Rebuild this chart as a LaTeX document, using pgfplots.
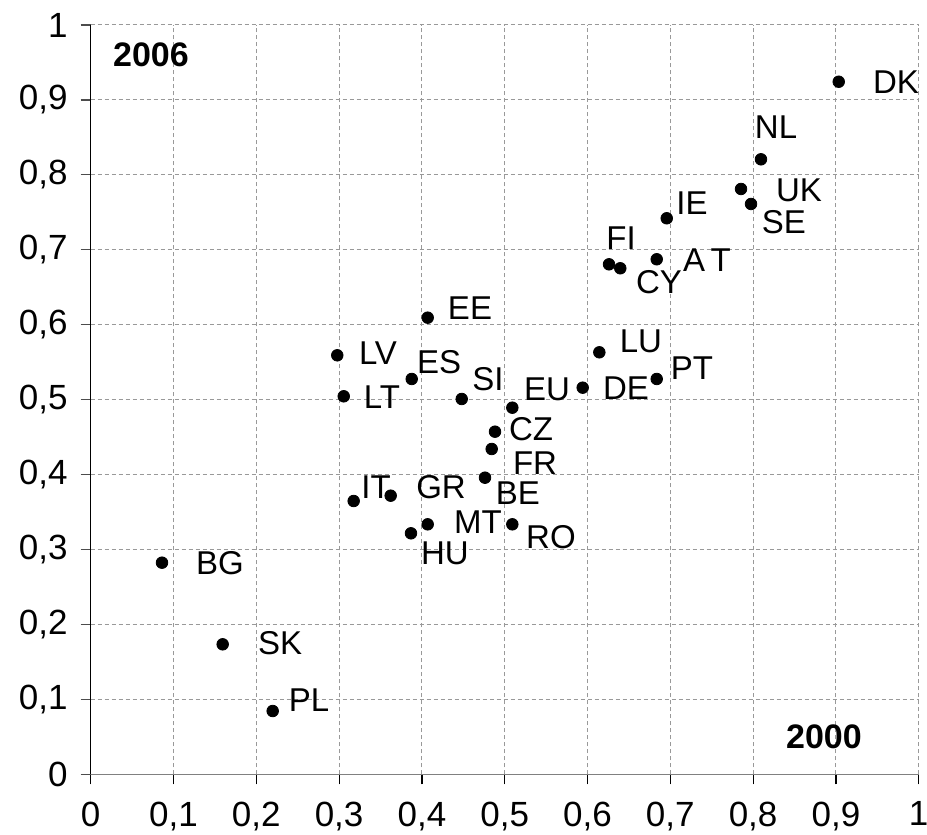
\documentclass[border=0pt]{standalone}
\usepackage{fontspec}
\setmainfont{Liberation Sans}
\usepackage{pgfplots}
\pgfplotsset{compat=1.18}
\usepackage{pgfplotstable}

% x = 2000, y = 2006
\pgfplotstableread{
x      y      lab
0.9034 0.9243 DK
0.8095 0.8208 NL
0.7854 0.7812 UK
0.7975 0.7612 SE
0.6957 0.7421 IE
0.6260 0.6807 FI
0.6396 0.6754 CY
0.6836 0.6874 AT
0.6143 0.5633 LU
0.6836 0.5277 PT
0.5942 0.5161 DE
0.5092 0.4894 EU
0.4070 0.6095 EE
0.2978 0.5593 LV
0.3877 0.5277 ES
0.3056 0.5046 LT
0.4481 0.5010 SI
0.4883 0.4574 CZ
0.4843 0.4343 FR
0.4762 0.3960 BE
0.3176 0.3649 IT
0.3623 0.3720 GR
0.4070 0.3338 MT
0.3868 0.3218 HU
0.5092 0.3338 RO
0.0861 0.2826 BG
0.1594 0.1737 SK
0.2198 0.0847 PL
}\pts

\begin{document}
\begin{tikzpicture}
\begin{axis}[
  at={(0,0)}, anchor=origin,
  scale only axis,
  width=414pt, height=374.75pt,
  xmin=0, xmax=1, ymin=0, ymax=1,
  xtick={0,0.1,...,1.01}, ytick={0,0.1,...,1.01},
  axis x line*=bottom, axis y line*=left,
  x axis line style={draw=gray, -},
  y axis line style={draw=black, -},
  tick align=outside,
  major tick length=5pt,
  x tick style={black, line width=0.6pt},
  y tick style={black!70, line width=0.6pt},
  grid=major,
  major grid style={gray!80, line width=0.5pt, dash pattern=on 2pt off 1.5pt},
  /pgf/number format/.cd, use comma, fixed, precision=1, assume math mode=true,
  /pgfplots/.cd,
  tick label style={font=\fontsize{17.5}{20}\selectfont},
  xticklabel style={yshift=-5pt},
  yticklabel style={xshift=-3pt},
  clip=false,
]
\addplot[only marks, mark=*, mark size=2.9pt, black] table[x=x, y=y] {\pts};

\begin{scope}[every node/.style={font=\fontsize{16.5}{19}\selectfont, inner sep=0pt}]
\node at (axis cs:0.9726,0.924)  {DK};
\node at (axis cs:0.8277,0.864)  {NL};
\node at (axis cs:0.8554,0.780)  {UK};
\node at (axis cs:0.8373,0.737)  {SE};
\node at (axis cs:0.7262,0.7625) {IE};
\node at (axis cs:0.6405,0.716)  {FI};
\node at (axis cs:0.7443,0.6865) {A\,T};
\node at (axis cs:0.6863,0.657)  {CY};
\node at (axis cs:0.6646,0.578)  {LU};
\node at (axis cs:0.7262,0.542)  {PT};
\node at (axis cs:0.6465,0.5157) {DE};
\node at (axis cs:0.5511,0.5143) {EU};
\node at (axis cs:0.4581,0.6224) {EE};
\node at (axis cs:0.3470,0.5624) {LV};
\node at (axis cs:0.4207,0.5504) {ES};
\node at (axis cs:0.3518,0.5037) {LT};
\node at (axis cs:0.4798,0.5277) {SI};
\node at (axis cs:0.5318,0.461)  {CZ};
\node at (axis cs:0.5366,0.4156) {FR};
\node at (axis cs:0.5160,0.3756) {BE};
\node at (axis cs:0.3446,0.3836) {IT};
\node at (axis cs:0.4231,0.3836) {GR};
\node at (axis cs:0.4677,0.3369) {MT};
\node at (axis cs:0.4279,0.2955) {HU};
\node at (axis cs:0.5559,0.3169) {RO};
\node at (axis cs:0.1562,0.2822) {BG};
\node at (axis cs:0.2287,0.1755) {SK};
\node at (axis cs:0.2637,0.0994) {PL};
\node[font=\fontsize{17}{20}\selectfont\bfseries] at (axis cs:0.0728,0.960) {2006};
\node[font=\fontsize{17}{20}\selectfont\bfseries] at (axis cs:0.8856,0.050) {2000};
\end{scope}
\end{axis}
\pgfresetboundingbox
\path[use as bounding box] (-45.35pt,-30.25pt) rectangle (418.15pt,387.25pt);
\end{tikzpicture}
\end{document}
